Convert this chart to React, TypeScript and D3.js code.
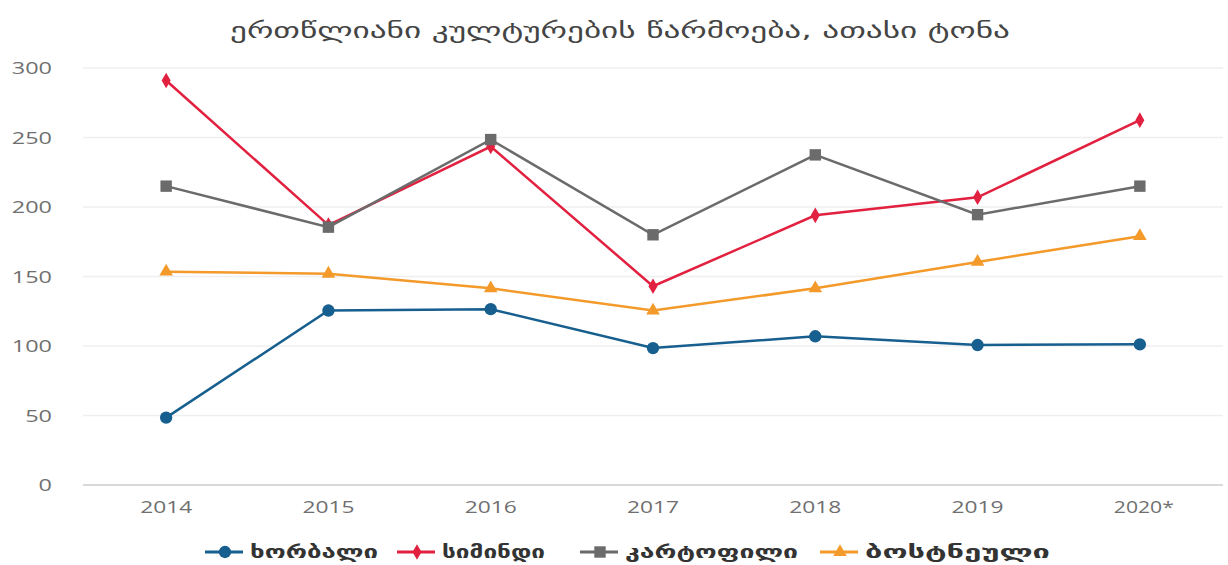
import React from "react";
import * as d3 from "d3";

const years = ["2014", "2015", "2016", "2017", "2018", "2019", "2020*"];
const wheat = [48.5, 125.5, 126.5, 98.5, 107, 100.7, 101.2];
const maize = [291, 187, 243.5, 143, 194, 207, 262.5];
const potato = [215, 185.5, 248.5, 180, 237.5, 194.5, 215];
const vegetables = [153.5, 152, 141.5, 125.5, 141.5, 160.5, 179];
const yTicks = [0, 50, 100, 150, 200, 250, 300];

const series = [
    { name: "ხორბალი", values: wheat, color: "#175f8f", symbol: d3.symbolCircle, size: 120 },
    { name: "სიმინდი", values: maize, color: "#e2203f", symbol: d3.symbolDiamond, size: 70 },
    { name: "კარტოფილი", values: potato, color: "#6b6b6b", symbol: d3.symbolSquare, size: 130 },
    { name: "ბოსტნეული", values: vegetables, color: "#f39a2b", symbol: d3.symbolTriangle, size: 80 },
];

const W = 1228;
const H = 565;

// the source picture is stretched sideways, so text is stretched too
const digitW = 13.4;

const App: React.FC = () => {
    const x = d3.scaleBand<string>().domain(years).range([85, 1221]);
    const y = d3.scaleLinear().domain([0, 300]).range([485, 68]);
    const cx = (yr: string) => (x(yr) ?? 0) + x.bandwidth() / 2;

    const line = d3
        .line<number>()
        .x((_, i) => cx(years[i]))
        .y((d) => y(d));

    // legend: marker line start, text start, text width
    const legendX = [205, 397, 580, 820];
    const legendTextW = [128, 103, 173, 185];

    return (
        <svg
            width={W}
            height={H}
            style={{ position: "absolute", left: 0, top: 0, background: "#fff" }}
            fontFamily="'DejaVu Sans', sans-serif"
        >
            <text
                x={230}
                y={38}
                fontSize={21}
                fill="#444"
                textLength={780}
                lengthAdjust="spacingAndGlyphs"
            >
                ერთწლიანი კულტურების წარმოება, ათასი ტონა
            </text>

            {/* grid */}
            {yTicks.map((t) => {
                const w = String(t).length * digitW;
                return (
                    <g key={t}>
                        <line
                            x1={83}
                            x2={1223}
                            y1={y(t)}
                            y2={y(t)}
                            stroke={t === 0 ? "#d9d9d9" : "#efefef"}
                            strokeWidth={t === 0 ? 2 : 1.5}
                        />
                        <text
                            x={52 - w}
                            y={y(t) + 6}
                            fontSize={16}
                            fill="#6f6f6f"
                            fontFamily="'Open Sans', sans-serif"
                            textLength={w}
                            lengthAdjust="spacingAndGlyphs"
                        >
                            {t}
                        </text>
                    </g>
                );
            })}

            {years.map((yr) => {
                const w = yr.length === 4 ? 52 : 60;
                return (
                    <text
                        key={yr}
                        x={cx(yr) - 26}
                        y={513}
                        fontSize={16}
                        fill="#6f6f6f"
                        fontFamily="'Liberation Sans Narrow', 'Open Sans', sans-serif"
                        textLength={w}
                        lengthAdjust="spacingAndGlyphs"
                    >
                        {yr}
                    </text>
                );
            })}

            {series.map((s) => (
                <g key={s.name}>
                    <path d={line(s.values) ?? ""} fill="none" stroke={s.color} strokeWidth={2.5} />
                    {s.values.map((v, i) => (
                        <path
                            key={i}
                            transform={`translate(${cx(years[i])},${y(v)})`}
                            d={d3.symbol().type(s.symbol).size(s.size)() ?? ""}
                            fill={s.color}
                        />
                    ))}
                </g>
            ))}

            {/* legend */}
            {series.map((s, i) => (
                <g key={s.name} transform={`translate(${legendX[i]},552)`}>
                    <line x1={0} x2={38} y1={0} y2={0} stroke={s.color} strokeWidth={3} />
                    <path
                        transform="translate(20,0)"
                        d={d3.symbol().type(s.symbol).size(s.size)() ?? ""}
                        fill={s.color}
                    />
                    <text
                        x={45}
                        y={6}
                        fontSize={17}
                        fontWeight="bold"
                        fill="#333"
                        textLength={legendTextW[i]}
                        lengthAdjust="spacingAndGlyphs"
                    >
                        {s.name}
                    </text>
                </g>
            ))}
        </svg>
    );
};

export default App;
